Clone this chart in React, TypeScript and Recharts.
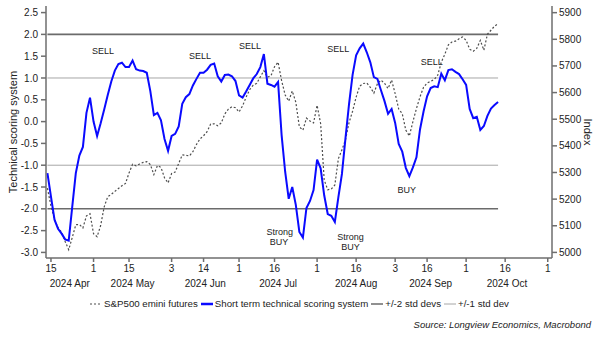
import React from 'react'
import { LineChart, Line, XAxis, YAxis, ReferenceLine, ReferenceDot } from 'recharts'

document.body.style.margin = '0'

const FONT = '"Liberation Sans", Arial, sans-serif'

// trading calendar: weekdays, minus the US market holidays in the window
const FIRST_DAY = '2024-04-12'
const LAST_DAY = '2024-11-01'
const HOLIDAYS = ['2024-05-27', '2024-06-19', '2024-07-04', '2024-09-02']

// short term technical scoring system, one value per trading day from FIRST_DAY
const score = [
  -1.18, -1.72, -2.25, -2.46, -2.57, -2.7, -2.73, -1.95, -1.18, -0.78,
  -0.58, 0.2, 0.55, 0.0, -0.33, -0.04, 0.28, 0.61, 0.92, 1.17,
  1.32, 1.35, 1.25, 1.25, 1.4, 1.2, 1.17, 1.16, 1.12, 0.7,
  0.15, 0.2, 0.03, -0.4, -0.67, -0.33, -0.28, -0.11, 0.41, 0.56,
  0.63, 0.83, 0.98, 1.12, 1.12, 1.19, 1.3, 1.33, 1.04, 0.92,
  1.07, 1.08, 1.04, 0.93, 0.6, 0.55, 0.69, 0.84, 0.99, 1.09,
  1.25, 1.55, 0.87, 0.84, 0.8, 0.91, -0.31, -1.15, -1.77, -1.5,
  -1.91, -2.53, -2.66, -1.98, -1.82, -1.57, -0.87, -1.07, -1.69, -2.12,
  -2.16, -2.3, -1.73, -1.2, -0.38, 0.4, 1.07, 1.52, 1.68, 1.79,
  1.59, 1.36, 1.02, 0.98, 0.72, 0.47, 0.18, 0.29, -0.03, -0.51,
  -0.69, -1.06, -1.25, -1.05, -0.82, -0.18, 0.23, 0.58, 0.77, 0.81,
  0.79, 1.1, 0.95, 1.18, 1.2, 1.14, 1.09, 0.97, 0.84, 0.29,
  0.08, 0.11, -0.19, -0.1, 0.13, 0.3, 0.38, 0.45,
]

// S&P500 emini futures (right axis)
const spx = [
  5241, 5174, 5123, 5093, 5076, 5041, 5010, 5056, 5104, 5105,
  5092, 5137, 5145, 5070, 5059, 5101, 5171, 5209, 5218, 5229,
  5240, 5250, 5259, 5298, 5331, 5325, 5332, 5338, 5341, 5330,
  5292, 5326, 5319, 5280, 5261, 5296, 5302, 5334, 5366, 5365,
  5362, 5378, 5405, 5426, 5438, 5453, 5482, 5483, 5475, 5486,
  5520, 5538, 5547, 5543, 5527, 5550, 5583, 5611, 5628, 5635,
  5659, 5682, 5658, 5663, 5697, 5714, 5645, 5591, 5568, 5606,
  5564, 5471, 5459, 5504, 5493, 5486, 5552, 5483, 5272, 5235,
  5238, 5253, 5352, 5385, 5423, 5487, 5530, 5583, 5624, 5634,
  5636, 5620, 5598, 5633, 5647, 5635, 5615, 5647, 5596, 5538,
  5521, 5459, 5437, 5491, 5540, 5584, 5620, 5636, 5642, 5649,
  5665, 5714, 5744, 5779, 5790, 5793, 5802, 5809, 5796, 5763,
  5755, 5766, 5796, 5759, 5819, 5834, 5849, 5859,
]

const tickDates = [
  '2024-04-15', '2024-05-01', '2024-05-15', '2024-06-03', '2024-06-14', '2024-07-01', '2024-07-16',
  '2024-08-01', '2024-08-16', '2024-09-03', '2024-09-16', '2024-10-01', '2024-10-16', '2024-11-01',
]
const monthKeys = ['2024-04', '2024-05', '2024-06', '2024-07', '2024-08', '2024-09', '2024-10', '2024-11']
const monthNames = ['2024 Apr', '2024 May', '2024 Jun', '2024 Jul', '2024 Aug', '2024 Sep', '2024 Oct']
const scoreTicks = [-3, -2.5, -2, -1.5, -1, -0.5, 0, 0.5, 1, 1.5, 2, 2.5]
const indexTicks = [5000, 5100, 5200, 5300, 5400, 5500, 5600, 5700, 5800, 5900]
const twoStd = [2, -2]
const oneStd = [1, -1]

// signal labels, in (trading day, score) units
const notes = [
  { text: 'SELL', x: 15.7, y: 1.62 },
  { text: 'SELL', x: 43.0, y: 1.5 },
  { text: 'SELL', x: 57.1, y: 1.74 },
  { text: 'SELL', x: 82.0, y: 1.66 },
  { text: 'SELL', x: 108.3, y: 1.37 },
  { text: 'Strong', x: 65.5, y: -2.53 },
  { text: 'BUY', x: 65.3, y: -2.77 },
  { text: 'Strong', x: 85.4, y: -2.65 },
  { text: 'BUY', x: 85.4, y: -2.88 },
  { text: 'BUY', x: 101.3, y: -1.58 },
]

const X_DOMAIN: [number, number] = [-0.4, 142.2]
const SCORE_DOMAIN: [number, number] = [-3.128, 2.651]
const INDEX_DOMAIN: [number, number] = [4979, 5925]

function buildCalendar(from: string, to: string) {
  const out: string[] = []
  const d = new Date(from + 'T00:00:00Z')
  const end = new Date(to + 'T00:00:00Z')
  while (d <= end) {
    const iso = d.toISOString().slice(0, 10)
    const wd = d.getUTCDay()
    if (wd !== 0 && wd !== 6 && !HOLIDAYS.includes(iso)) out.push(iso)
    d.setUTCDate(d.getUTCDate() + 1)
  }
  return out
}

const calendar = buildCalendar(FIRST_DAY, LAST_DAY)
const rows = score.map((s, i) => ({ x: i, date: calendar[i], score: s, spx: spx[i] }))
const lastX = rows.length - 1
const dayTicks = tickDates.map(d => calendar.indexOf(d))
const monthStarts = monthKeys.map(m => calendar.findIndex(d => d.startsWith(m)))
const monthTicks = monthNames.map((_, i) => ((i === 0 ? X_DOMAIN[0] : monthStarts[i]) + monthStarts[i + 1]) / 2)

const AXIS = '#6e6e6e'
const TEXT = '#222'

const DayTick = (p: any) => (
  <text x={p.x} y={p.y} dy={8} textAnchor="middle" fontSize={10} fill={TEXT}>
    {Number(calendar[Math.round(p.payload.value)].slice(8))}
  </text>
)

const MonthTick = (p: any) => (
  <text x={p.x} y={p.y} dy={15} textAnchor="middle" fontSize={10} fill={TEXT}>
    {monthNames[monthTicks.indexOf(p.payload.value)]}
  </text>
)

const Note = (text: string) => (p: any) => (
  <text x={p.cx} y={p.cy} textAnchor="middle" dominantBaseline="central" fontSize={9} fill={TEXT}>
    {text}
  </text>
)

function LegendItem({ icon, label }: { icon: React.ReactNode; label: string }) {
  return (
    <span style={{ display: 'inline-flex', alignItems: 'center', marginRight: 3 }}>
      <svg width={12} height={6} style={{ marginRight: 2 }}>{icon}</svg>
      {label}
    </span>
  )
}

export default function App() {
  return (
    <div style={{ position: 'relative', width: 602, height: 338, fontFamily: FONT, background: '#fff' }}>
      <LineChart width={602} height={338} data={rows} margin={{ top: 6, right: 0, bottom: 50, left: 0 }}>
        <XAxis
          dataKey="x" type="number" domain={X_DOMAIN} allowDataOverflow ticks={dayTicks} interval={0}
          height={14} tickSize={4} tickMargin={2} stroke={AXIS} strokeWidth={1.5} tick={DayTick}
        />
        <XAxis
          xAxisId="month" dataKey="x" type="number" domain={X_DOMAIN} allowDataOverflow ticks={monthTicks}
          interval={0} height={16} tickSize={0} tickMargin={0} axisLine={false} tickLine={false} tick={MonthTick}
        />
        <XAxis
          xAxisId="top" orientation="top" dataKey="x" type="number" domain={X_DOMAIN} allowDataOverflow
          height={0} tick={false} tickLine={false} stroke={AXIS} strokeWidth={1.5}
        />
        <YAxis
          yAxisId="left" type="number" domain={SCORE_DOMAIN} allowDataOverflow ticks={scoreTicks} interval={0}
          width={46} tickSize={5} tickMargin={3} stroke={AXIS} strokeWidth={1.5}
          tick={{ fontSize: 10, fill: TEXT }} tickFormatter={(v: number) => v.toFixed(1)}
        />
        <YAxis
          yAxisId="right" orientation="right" type="number" domain={INDEX_DOMAIN} allowDataOverflow
          ticks={indexTicks} interval={0} width={50} tickSize={5} tickMargin={2} stroke={AXIS} strokeWidth={1.5}
          tick={{ fontSize: 10, fill: TEXT }}
        />

        {oneStd.map(v => (
          <ReferenceLine key={'one' + v} yAxisId="left" segment={[{ x: 0, y: v }, { x: lastX, y: v }]}
            stroke="#a6a6a6" strokeWidth={1} />
        ))}
        {twoStd.map(v => (
          <ReferenceLine key={'two' + v} yAxisId="left" segment={[{ x: 0, y: v }, { x: lastX, y: v }]}
            stroke="#6b6b6b" strokeWidth={1.6} />
        ))}

        <Line yAxisId="right" dataKey="spx" stroke="#4d4d4d" strokeWidth={1.2} strokeDasharray="2 2"
          dot={false} isAnimationActive={false} />
        <Line yAxisId="left" dataKey="score" stroke="#0a0aff" strokeWidth={2}
          dot={false} isAnimationActive={false} />

        {notes.map((n, i) => (
          <ReferenceDot key={i} yAxisId="left" x={n.x} y={n.y} r={0} shape={Note(n.text)} />
        ))}
      </LineChart>

      <div style={{
        position: 'absolute', left: 13, top: 132, transform: 'translate(-50%, -50%) rotate(-90deg)',
        fontSize: 11, color: TEXT, whiteSpace: 'nowrap',
      }}>
        Technical scoring system
      </div>
      <div style={{
        position: 'absolute', left: 588, top: 132, transform: 'translate(-50%, -50%) rotate(90deg)',
        fontSize: 11, color: TEXT, whiteSpace: 'nowrap',
      }}>
        Index
      </div>

      {/* legend */}
      <div style={{
        position: 'absolute', left: 0, top: 297, width: 602, display: 'flex', justifyContent: 'center',
        fontSize: 9.7, color: TEXT, lineHeight: '14px',
      }}>
        <LegendItem label="S&P500 emini futures"
          icon={<line x1={0} y1={3} x2={12} y2={3} stroke="#4d4d4d" strokeWidth={1.2} strokeDasharray="2 2" />} />
        <LegendItem label="Short term technical scoring system"
          icon={<line x1={0} y1={3} x2={12} y2={3} stroke="#0a0aff" strokeWidth={2.5} />} />
        <LegendItem label="+/-2 std devs"
          icon={<line x1={0} y1={3} x2={12} y2={3} stroke="#6b6b6b" strokeWidth={1.5} />} />
        <LegendItem label="+/-1 std dev"
          icon={<line x1={0} y1={3} x2={12} y2={3} stroke="#a6a6a6" strokeWidth={1} />} />
      </div>

      <div style={{
        position: 'absolute', right: 11, top: 319, fontSize: 9.5, fontStyle: 'italic', color: TEXT,
      }}>
        Source: Longview Economics, Macrobond
      </div>
    </div>
  )
}
